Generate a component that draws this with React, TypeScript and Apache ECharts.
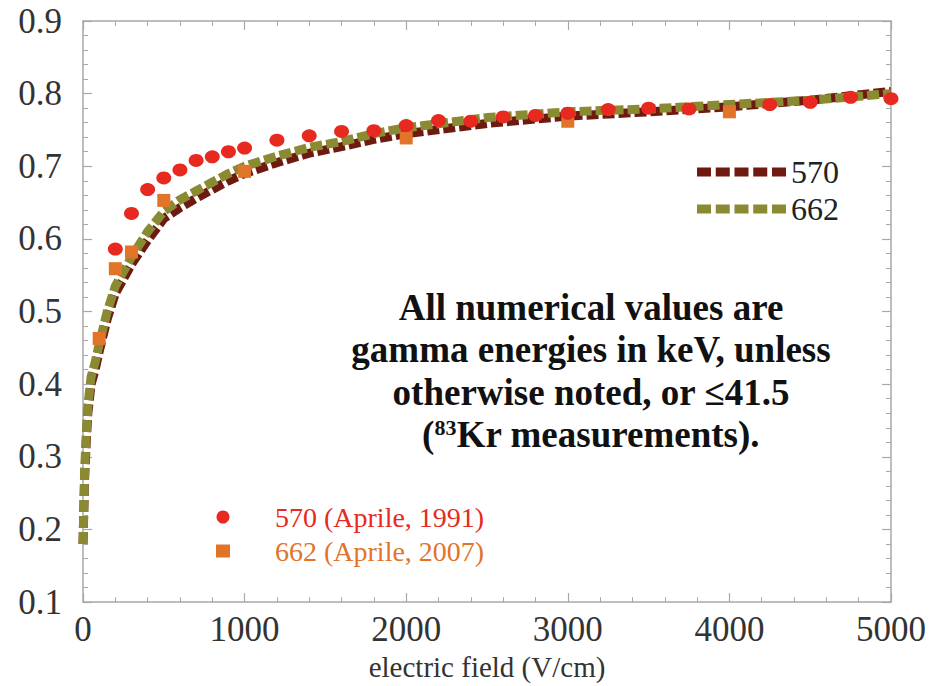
import React, { useEffect, useRef } from "react";
import * as echarts from "echarts";

const curveX = [0, 10, 20, 30, 50, 75, 100, 150, 200, 250, 300, 400, 500, 600, 700, 800, 900, 1000, 1200, 1400, 1600, 1800, 2000, 2250, 2500, 2750, 3000, 3500, 4000, 4500, 5000];
const curve570 = [0.18, 0.27, 0.32, 0.36, 0.4, 0.42, 0.445, 0.49, 0.525, 0.545, 0.565, 0.598, 0.628, 0.643, 0.656, 0.668, 0.68, 0.69, 0.705, 0.718, 0.727, 0.737, 0.745, 0.752, 0.759, 0.764, 0.769, 0.775, 0.782, 0.791, 0.803];
const curve662 = [0.18, 0.28, 0.33, 0.37, 0.41, 0.43, 0.455, 0.5, 0.535, 0.555, 0.575, 0.61, 0.638, 0.654, 0.666, 0.678, 0.69, 0.7, 0.714, 0.726, 0.734, 0.745, 0.753, 0.76, 0.767, 0.771, 0.775, 0.779, 0.785, 0.791, 0.8];

const aprile1991X = [200, 300, 400, 500, 600, 700, 800, 900, 1000, 1200, 1400, 1600, 1800, 2000, 2200, 2400, 2600, 2800, 3000, 3250, 3500, 3750, 4250, 4500, 4750, 5000];
const aprile1991Y = [0.586, 0.635, 0.668, 0.684, 0.695, 0.708, 0.713, 0.72, 0.725, 0.736, 0.742, 0.748, 0.749, 0.756, 0.763, 0.762, 0.768, 0.77, 0.773, 0.778, 0.78, 0.779, 0.785, 0.788, 0.795, 0.793];

const aprile2007X = [100, 200, 300, 500, 1000, 2000, 3000, 4000];
const aprile2007Y = [0.463, 0.559, 0.582, 0.653, 0.693, 0.739, 0.762, 0.775];

const xTicks = [0, 1000, 2000, 3000, 4000, 5000];
const yTicks = [0.1, 0.2, 0.3, 0.4, 0.5, 0.6, 0.7, 0.8, 0.9];

const noteLines = [
  "All numerical values are",
  "gamma energies in keV, unless",
  "otherwise noted, or \u226441.5",
  "({sup|83}Kr measurements).",
];

const FONT = "'Liberation Serif', 'Times New Roman', serif";
const FRAME = "#a8a8a8";
const DARK_RED = "#6e1a10";
const OLIVE = "#8a8a32";
const RED = "#e8291f";
const ORANGE = "#e2742a";
const DASH_ICON = "path://M0,0h14v9h-14z M18.75,0h14v9h-14z M37.5,0h14v9h-14z M56.25,0h14v9h-14z M75,0h14v9h-14z";

const zip = (xs: number[], ys: number[]) => xs.map((x, i) => [x, ys[i]]);

export default function App() {
  const ref = useRef<HTMLDivElement>(null);
  useEffect(() => {
    if (!ref.current) return;
    const chart = echarts.init(ref.current, undefined, { renderer: "svg" });
    const axisCommon = {
      axisLine: { show: true, onZero: false, lineStyle: { color: FRAME, width: 1.5 } },
      axisTick: { show: true, inside: true, length: 9, lineStyle: { color: FRAME, width: 1.2 } },
      minorTick: { show: true, splitNumber: 5, length: 5, lineStyle: { color: FRAME, width: 1 } },
      splitLine: { show: false },
    };
    chart.setOption({
      animation: false,
      backgroundColor: "#ffffff",
      grid: { left: 83, right: 36, top: 21, bottom: 82, containLabel: false },
      xAxis: [
        {
          type: "value", min: 0, max: 5000, interval: 1000, position: "bottom",
          ...axisCommon,
          axisLabel: {
            fontFamily: FONT, fontSize: 35, color: "#333", margin: 10,
            formatter: (v: number) => (xTicks.includes(v) ? String(v) : ""),
          },
          name: "electric field (V/cm)", nameLocation: "middle", nameGap: 45,
          nameTextStyle: { fontFamily: FONT, fontSize: 29, color: "#333" },
        },
        {
          type: "value", min: 0, max: 5000, interval: 1000, position: "top",
          ...axisCommon, axisLabel: { show: false },
        },
      ],
      yAxis: [
        {
          type: "value", min: 0.1, max: 0.9, interval: 0.1, position: "left",
          ...axisCommon,
          axisLabel: {
            fontFamily: FONT, fontSize: 35, color: "#333", margin: 21,
            formatter: (v: number) => {
              const t = yTicks.find((y) => Math.abs(y - v) < 1e-6);
              return t === undefined ? "" : t.toFixed(1);
            },
          },
        },
        {
          type: "value", min: 0.1, max: 0.9, interval: 0.1, position: "right",
          ...axisCommon, axisLabel: { show: false },
        },
      ],
      legend: [
        {
          data: [
            { name: "570", icon: DASH_ICON },
            { name: "662", icon: DASH_ICON },
          ],
          orient: "vertical", left: 697, top: 155, padding: 0,
          itemWidth: 89, itemHeight: 9, itemGap: 3,
          textStyle: { fontFamily: FONT, fontSize: 32, color: "#222", lineHeight: 34 },
          selectedMode: false,
        },
        {
          data: [
            { name: "570 (Aprile, 1991)", textStyle: { color: RED } },
            { name: "662 (Aprile, 2007)", textStyle: { color: ORANGE } },
          ],
          orient: "vertical", left: 216, top: 503, padding: 0,
          itemWidth: 14, itemHeight: 13, itemGap: 6,
          textStyle: { fontFamily: FONT, fontSize: 28, lineHeight: 28, padding: [0, 0, 0, 40] },
          selectedMode: false,
        },
      ],
      graphic: noteLines.map((line, i) => ({
        type: "text",
        x: 591, y: 307 + i * 42.5,
        style: {
          text: line, fontFamily: FONT, fontSize: 37, fontWeight: "bold",
          fill: "#111", align: "center", verticalAlign: "middle",
          rich: { sup: { fontSize: 22, fontWeight: "bold", fontFamily: FONT, fill: "#111", padding: [0, 0, 14, 0] } },
        },
      })),
      series: [
        {
          name: "570", type: "line", data: zip(curveX, curve570), showSymbol: false, symbol: "none",
          lineStyle: { color: DARK_RED, width: 9, type: [12, 4], cap: "butt" }, itemStyle: { color: DARK_RED },
          z: 2,
        },
        {
          name: "662", type: "line", data: zip(curveX, curve662), showSymbol: false, symbol: "none",
          lineStyle: { color: OLIVE, width: 9, type: [12, 4], cap: "butt" }, itemStyle: { color: OLIVE },
          z: 3,
        },
        {
          name: "570 (Aprile, 1991)", type: "scatter", data: zip(aprile1991X, aprile1991Y),
          symbol: "circle", symbolSize: [15, 13], itemStyle: { color: RED, opacity: 1 }, z: 5,
        },
        {
          name: "662 (Aprile, 2007)", type: "scatter", data: zip(aprile2007X, aprile2007Y),
          symbol: "rect", symbolSize: 13, itemStyle: { color: ORANGE, opacity: 1 }, z: 4,
        },
      ],
    });
    return () => chart.dispose();
  }, []);
  return <div ref={ref} style={{ width: 929, height: 686, position: "absolute", left: 0, top: 0 }} />;
}
